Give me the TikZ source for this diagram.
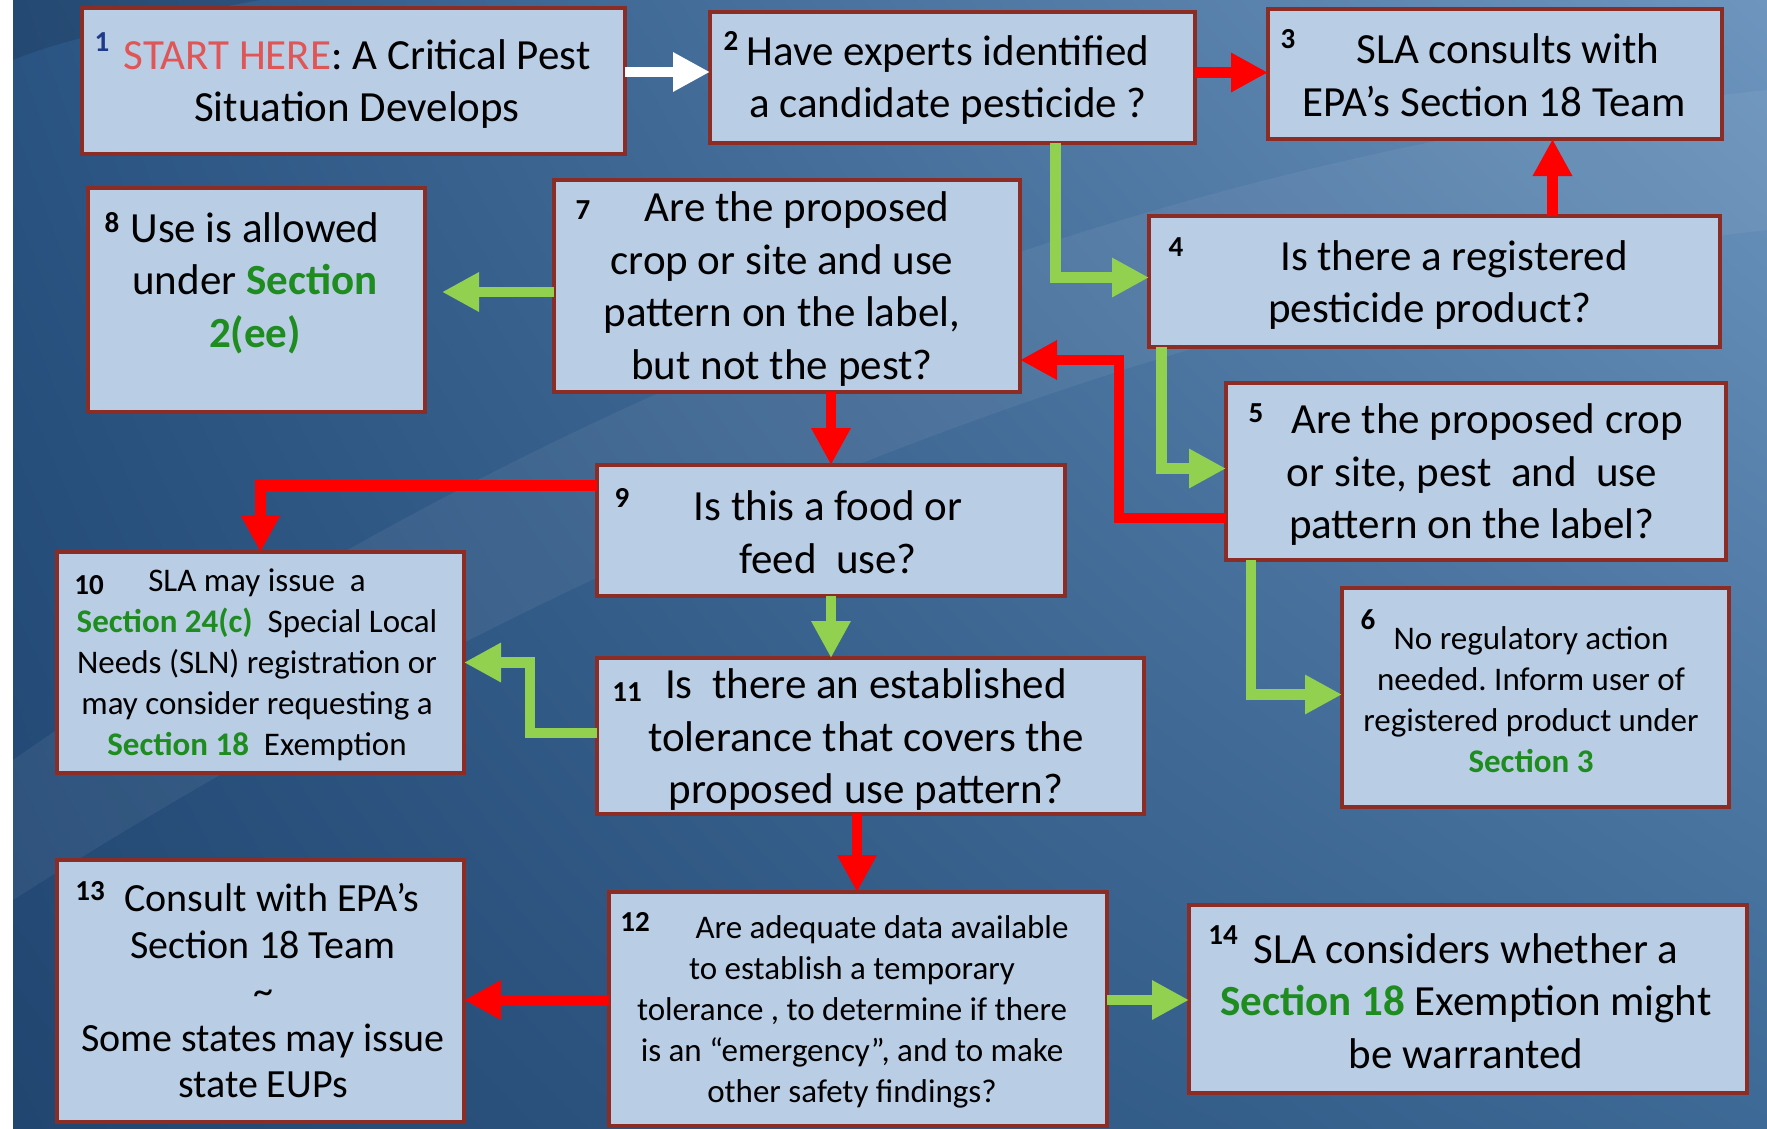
\documentclass[tikz,border=0pt]{standalone}
\usepackage{fontspec}
\setmainfont{Carlito}
\usetikzlibrary{arrows.meta,calc,shadings}
\definecolor{bgUL}{HTML}{2A5483}
\definecolor{bgUR}{HTML}{6D95BE}
\definecolor{bgLL}{HTML}{214670}
\definecolor{bgLR}{HTML}{3D6996}
\definecolor{boxfill}{HTML}{B9CDE5}
\definecolor{boxborder}{HTML}{8C2D25}
\definecolor{arrRed}{HTML}{FF0000}
\definecolor{arrGreen}{HTML}{92D050}
\definecolor{secgreen}{HTML}{1F8C1F}
\definecolor{startred}{HTML}{E05555}
\definecolor{numblue}{HTML}{1F3A8A}
\newcommand{\sect}[1]{\textcolor{secgreen}{\bfseries #1}}
\frenchspacing
\begin{document}
\begin{tikzpicture}[x=1pt,y=-1pt,
  box/.style={draw=boxborder, fill=boxfill, line width=4pt, inner sep=0pt, outer sep=0pt},
  txt/.style={align=center, inner sep=0pt, font=\fontsize{43}{52.5}\selectfont},
  mtxt/.style={align=center, inner sep=0pt, font=\fontsize{40}{46.5}\selectfont},
  stxt/.style={align=center, inner sep=0pt, font=\fontsize{33}{41}\selectfont},
  num/.style={inner sep=0pt, font=\fontsize{29}{30}\selectfont\bfseries},
  conn/.style={line width=10.5pt, line join=miter, -{Triangle[length=37pt,width=37pt]}},
  redc/.style={conn, draw=arrRed},
  greenc/.style={conn, draw=arrGreen},
  whitec/.style={conn, draw=white}]
\useasboundingbox (0,0) rectangle (1767,1128);
% background
\fill[white] (0,0) rectangle (1767,1128);
\shade[upper left=bgUL, upper right=bgUR, lower left=bgLL, lower right=bgLR] (13,0) rectangle (1767,1128);
\fill[white, opacity=0.06] (13,760) .. controls (500,420) and (1100,160) .. (1767,90) -- (1767,230) .. controls (1150,300) and (550,560) .. (13,900) -- cycle;
\fill[black, opacity=0.12] (13,0) -- (260,0) .. controls (150,20) and (60,40) .. (13,60) -- cycle;
% boxes
\node[box, minimum width=543, minimum height=146] (b1) at (353.5,81) {};
\node[box, minimum width=485, minimum height=131] (b2) at (952.5,77.5) {};
\node[box, minimum width=454, minimum height=130] (b3) at (1495,74) {};
\node[box, minimum width=571, minimum height=131] (b4) at (1434.5,281.5) {};
\node[box, minimum width=500, minimum height=177] (b5) at (1476,471.5) {};
\node[box, minimum width=387, minimum height=219] (b6) at (1535.5,697.5) {};
\node[box, minimum width=466, minimum height=212] (b7) at (787,286) {};
\node[box, minimum width=337, minimum height=224] (b8) at (256.5,300) {};
\node[box, minimum width=468, minimum height=131] (b9) at (831,530.5) {};
\node[box, minimum width=407, minimum height=221] (b10) at (260.5,662.5) {};
\node[box, minimum width=547, minimum height=156] (b11) at (870.5,736) {};
\node[box, minimum width=498, minimum height=234] (b12) at (858,1009) {};
\node[box, minimum width=407, minimum height=262] (b13) at (260.5,991) {};
\node[box, minimum width=558, minimum height=188] (b14) at (1468,999) {};
% texts
\node[txt] (t1) at (357,84) {\textcolor{startred}{START HERE}: A Critical Pest\\Situation Develops};
\node[txt] (t2) at (948,80) {Have experts identified\\a candidate pesticide ?};
\node[txt] (t3) at (1494,75) {\hspace*{28pt}SLA consults with\\EPA’s Section 18 Team};
\node[txt] (t4) at (1430,285) {\hspace*{48pt}Is there a registered\\pesticide product?};
\node[txt] (t5) at (1472,475) {\hspace*{30pt}Are the proposed crop\\or site, pest\ \ and\ \ use\\pattern on the label?};
\node[stxt] (t6) at (1531,700) {No regulatory action\\needed. Inform user of\\registered product under\\\sect{Section 3}};
\node[txt] (t7) at (782,289) {\hspace*{30pt}Are the proposed\\crop or site and use\\pattern on the label,\\but not the pest?};
\node[txt] (t8) at (255,283) {Use is allowed\\under \sect{Section}\\\sect{2(ee)}};
\node[txt] (t9) at (828,532) {Is this a food or\\feed\ \ use?};
\node[stxt] (t10) at (257,665) {SLA may issue\ \ a\\\sect{Section 24(c)}\ \ Special Local\\Needs (SLN) registration or\\may consider requesting a\\\sect{Section 18}\ \ Exemption};
\node[txt] (t11) at (866,740) {Is\ \ there an established\\tolerance that covers the\\proposed use pattern?};
\node[stxt] (t12) at (852,1012) {\hspace*{60pt}Are adequate data available\\to establish a temporary\\tolerance , to determine if there\\is an “emergency”, and to make\\other safety findings?};
\node[mtxt] (t13) at (263,991) {\hspace*{18pt}Consult with EPA’s\\Section 18 Team\\\textasciitilde\\Some states may issue\\state EUPs};
\node[txt] (t14) at (1466,1001) {SLA considers whether a\\\sect{Section 18}\ Exemption might\\be warranted};
% numbers
\node[num, text=numblue] (n1) at (102,42) {1};
\node[num] (n2) at (731,41) {2};
\node[num] (n3) at (1288,39) {3};
\node[num] (n4) at (1176,247) {4};
\node[num] (n5) at (1256,413) {5};
\node[num] (n6) at (1368,620) {6};
\node[num] (n7) at (583,210) {7};
\node[num] (n8) at (112,223) {8};
\node[num] (n9) at (622,498) {9};
\node[num] (n10) at (89,585) {10};
\node[num] (n11) at (627,692) {11};
\node[num] (n12) at (635,922) {12};
\node[num] (n13) at (90,891) {13};
\node[num] (n14) at (1223,935) {14};
% connectors
\coordinate (a1) at ($(b1.east)+(0,-9)$);
\draw[whitec] (a1) -- (a1 -| b2.west);
\coordinate (a2) at ($(b2.east)+(0,-5)$);
\draw[redc] (a2) -- (a2 -| b3.west);
\coordinate (a3) at ($(b2.south)+(103,0)$);
\draw[greenc] (a3) |- ($(b4.west)+(0,-4)$);
\coordinate (a4) at ($(b4.north)+(118,0)$);
\draw[redc] (a4) -- (a4 |- b3.south);
\coordinate (a5) at ($(b4.south)+(-273,0)$);
\draw[greenc] (a5) |- ($(b5.west)+(0,-3)$);
\coordinate (a6) at ($(b5.west)+(0,46.5)$);
\draw[redc] (a6) -| ($(b7.east)+(99,74)$) -- ($(b7.east)+(0,74)$);
\coordinate (a7) at ($(b5.south)+(-225,0)$);
\draw[greenc] (a7) |- ($(b6.west)+(0,-3)$);
\coordinate (a8) at ($(b7.west)+(0,6)$);
\draw[greenc, shorten >=17pt] (a8) -- (a8 -| b8.east);
\coordinate (a9) at ($(b7.south)+(44,0)$);
\draw[redc] (a9) -- (a9 |- b9.north);
\coordinate (a10) at ($(b9.west)+(0,-45)$);
\draw[redc] (a10) -| (b10.north);
\coordinate (a11) at (b9.south);
\draw[greenc] (a11) -- (a11 |- b11.north);
\coordinate (a12) at ($(b11.west)+(0,-3)$);
\draw[greenc] (a12) -| ($(b10.east)+(66,0)$) -- (b10.east);
\coordinate (a13) at ($(b11.south)+(-13.5,0)$);
\draw[redc] (a13) -- (a13 |- b12.north);
\coordinate (a14) at ($(b12.west)+(0,-9)$);
\draw[redc] (a14) -- (a14 -| b13.east);
\coordinate (a15) at ($(b12.east)+(0,-9)$);
\draw[greenc] (a15) -- (a15 -| b14.west);
\end{tikzpicture}
\end{document}
